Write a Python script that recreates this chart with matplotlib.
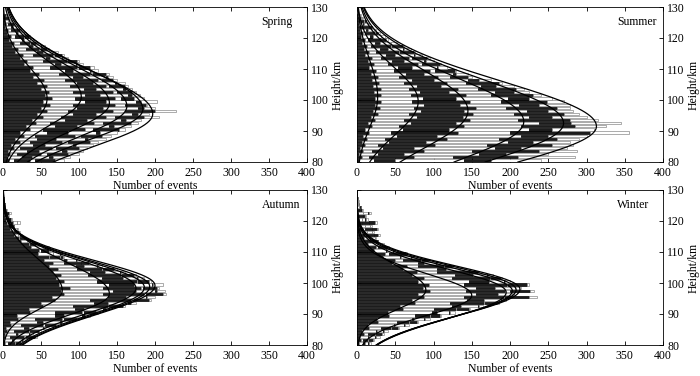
import numpy as np
import matplotlib
matplotlib.use("Agg")
import matplotlib.pyplot as plt

plt.rcParams['font.family'] = ['Liberation Serif', 'DejaVu Serif']

# ---------------- data ----------------
heights = list(range(80, 128))          # lower edge of each 1-km bin
seasons = ['Spring', 'Summer', 'Autumn', 'Winter']

# cumulative counts of the six stacked groups in each height bin (80..127 km)
spring_cum = [
    [8, 15, 35, 42, 68, 80], [5, 25, 38, 60, 66, 88], [9, 18, 50, 58, 85, 100],
    [7, 32, 48, 78, 84, 105], [14, 22, 65, 70, 100, 110], [10, 40, 55, 92, 96, 118],
    [22, 35, 78, 85, 115, 125], [16, 45, 70, 108, 112, 135], [28, 42, 95, 102, 130, 142],
    [22, 58, 85, 122, 128, 150], [35, 52, 108, 118, 152, 160], [30, 68, 98, 140, 146, 168],
    [44, 62, 120, 132, 168, 178], [38, 82, 110, 155, 162, 182], [52, 76, 135, 148, 185, 205],
    [45, 92, 122, 170, 178, 192], [58, 85, 145, 160, 200, 228], [50, 98, 132, 178, 185, 200],
    [62, 92, 148, 160, 188, 190], [52, 108, 135, 175, 182, 202], [64, 95, 148, 155, 172, 185],
    [55, 108, 128, 165, 170, 180], [60, 92, 145, 150, 170, 175], [50, 106, 122, 158, 162, 170],
    [58, 88, 135, 140, 160, 165], [45, 98, 118, 148, 150, 160], [54, 82, 125, 130, 145, 150],
    [40, 92, 105, 135, 138, 145], [48, 74, 115, 118, 136, 140], [36, 82, 92, 115, 116, 125],
    [40, 62, 98, 100, 115, 120], [28, 68, 76, 96, 97, 105], [32, 52, 84, 86, 98, 100],
    [22, 56, 62, 78, 79, 85], [26, 40, 66, 68, 78, 80], [16, 45, 52, 64, 65, 72],
    [20, 30, 48, 50, 58, 60], [12, 34, 40, 50, 51, 55], [14, 22, 36, 37, 44, 45],
    [8, 25, 28, 36, 36, 40], [10, 16, 28, 29, 34, 35], [5, 17, 20, 27, 27, 30],
    [6, 10, 18, 19, 23, 24], [3, 11, 13, 17, 17, 20], [4, 7, 12, 12, 15, 16],
    [2, 7, 7, 10, 11, 12], [2, 3, 6, 7, 8, 9], [1, 3, 4, 5, 5, 6],
]
summer_cum = [
    [2, 22, 50, 140, 175, 240], [6, 16, 75, 125, 210, 285], [3, 28, 62, 160, 195, 250],
    [8, 20, 88, 150, 238, 288], [4, 34, 75, 180, 215, 275], [10, 28, 102, 170, 255, 283],
    [6, 42, 90, 198, 230, 279], [13, 36, 118, 185, 262, 290], [8, 52, 105, 215, 250, 300],
    [16, 45, 132, 200, 305, 355], [11, 60, 120, 225, 255, 310], [19, 55, 140, 215, 285, 325],
    [14, 70, 130, 238, 280, 345], [23, 62, 148, 210, 278, 315], [18, 78, 138, 225, 255, 300],
    [27, 68, 152, 205, 270, 290], [21, 84, 140, 222, 250, 282], [30, 74, 155, 195, 262, 279],
    [23, 88, 135, 212, 238, 278], [31, 72, 148, 188, 248, 270], [24, 86, 130, 198, 225, 255],
    [32, 70, 142, 175, 230, 240], [22, 82, 120, 180, 205, 225], [31, 68, 132, 158, 208, 218],
    [21, 78, 110, 162, 182, 205], [29, 62, 118, 142, 185, 190], [20, 72, 100, 145, 160, 175],
    [27, 55, 106, 122, 145, 150], [18, 64, 88, 125, 130, 145], [25, 48, 95, 102, 128, 130],
    [16, 54, 72, 105, 106, 118], [22, 40, 80, 85, 108, 110], [14, 46, 62, 88, 90, 100],
    [19, 32, 68, 72, 92, 96], [11, 38, 50, 74, 76, 85], [16, 25, 55, 56, 74, 76],
    [9, 30, 40, 60, 61, 70], [13, 18, 45, 46, 60, 62], [7, 24, 30, 44, 45, 52],
    [10, 14, 30, 30, 38, 40], [5, 17, 21, 32, 32, 36], [8, 10, 24, 25, 28, 30],
    [4, 12, 14, 22, 22, 25], [6, 7, 16, 16, 19, 20], [3, 8, 9, 14, 14, 16],
    [4, 5, 9, 10, 12, 12], [2, 4, 5, 7, 7, 8], [1, 2, 3, 4, 4, 5],
]
autumn_cum = [
    [2, 6, 16, 17, 24, 25], [1, 12, 15, 25, 26, 30], [3, 9, 28, 30, 42, 45],
    [2, 17, 20, 34, 35, 40], [5, 14, 34, 36, 48, 50], [4, 28, 34, 52, 54, 60],
    [10, 24, 52, 55, 70, 72], [9, 45, 52, 75, 78, 85], [20, 42, 78, 80, 98, 100],
    [18, 68, 80, 104, 108, 115], [36, 68, 104, 106, 122, 125], [34, 95, 106, 132, 135, 140],
    [52, 92, 138, 140, 158, 160], [50, 120, 138, 165, 168, 175], [68, 115, 168, 172, 192, 195],
    [64, 138, 162, 188, 190, 200], [80, 132, 185, 188, 210, 215], [76, 145, 175, 200, 202, 213],
    [88, 132, 182, 184, 203, 205], [74, 140, 172, 196, 198, 210], [80, 124, 176, 178, 192, 195],
    [70, 130, 158, 176, 178, 185], [76, 112, 155, 156, 172, 175], [66, 115, 134, 154, 155, 160],
    [72, 98, 130, 132, 146, 150], [60, 96, 106, 124, 125, 130], [66, 80, 102, 103, 113, 115],
    [54, 80, 84, 96, 97, 100], [60, 62, 75, 76, 79, 80], [46, 66, 66, 75, 76, 78],
    [48, 50, 58, 58, 61, 62], [37, 52, 52, 58, 59, 60], [34, 35, 42, 42, 44, 45],
    [24, 31, 31, 34, 34, 35], [21, 22, 27, 27, 29, 30], [14, 20, 20, 23, 24, 25],
    [13, 14, 19, 19, 21, 22], [9, 14, 14, 18, 19, 20], [8, 8, 12, 12, 14, 15],
    [5, 11, 13, 18, 18, 22], [4, 5, 9, 9, 11, 12], [3, 4, 5, 6, 7, 8],
    [2, 4, 6, 7, 8, 10], [1, 2, 3, 4, 4, 5], [1, 1, 2, 2, 3, 3],
    [0, 1, 1, 1, 2, 2], [0, 0, 1, 1, 1, 1], [0, 0, 0, 0, 1, 1],
]
winter_cum = [
    [2, 8, 10, 15, 16, 18], [5, 8, 15, 16, 21, 22], [4, 14, 16, 24, 25, 30],
    [9, 14, 24, 25, 33, 35], [7, 25, 26, 34, 35, 40], [16, 32, 45, 46, 54, 55],
    [14, 48, 50, 62, 63, 68], [28, 52, 68, 69, 78, 80], [26, 72, 75, 88, 89, 95],
    [42, 76, 96, 97, 108, 110], [40, 98, 104, 120, 121, 128], [60, 100, 130, 131, 146, 148],
    [56, 124, 136, 158, 159, 165], [76, 122, 166, 167, 183, 185], [72, 144, 166, 188, 189, 195],
    [88, 140, 192, 194, 225, 235], [80, 156, 184, 202, 203, 205], [95, 142, 194, 200, 226, 232],
    [86, 156, 180, 206, 207, 215], [94, 140, 196, 198, 222, 225], [80, 146, 172, 192, 193, 200],
    [88, 124, 174, 175, 188, 190], [72, 128, 152, 170, 171, 178], [78, 104, 146, 147, 158, 160],
    [60, 104, 116, 134, 135, 140], [66, 80, 114, 115, 124, 125], [46, 80, 88, 103, 104, 108],
    [50, 60, 84, 85, 93, 95], [34, 56, 58, 71, 72, 75], [36, 42, 57, 57, 64, 65],
    [22, 38, 39, 47, 48, 50], [25, 27, 37, 37, 41, 42], [15, 26, 26, 33, 33, 35],
    [17, 17, 25, 25, 27, 28], [9, 17, 17, 23, 23, 25], [11, 12, 22, 22, 28, 30],
    [5, 13, 13, 20, 20, 22], [8, 10, 20, 20, 26, 28], [3, 10, 10, 17, 17, 20],
    [6, 7, 16, 16, 24, 26], [2, 6, 6, 11, 12, 15], [3, 3, 8, 8, 11, 12],
    [1, 8, 8, 15, 16, 18], [2, 2, 5, 5, 7, 8], [0, 3, 3, 4, 5, 5],
    [0, 1, 1, 2, 2, 3], [0, 1, 1, 1, 1, 2], [0, 0, 0, 1, 1, 1],
]

# fitted curve parameters (peak count, peak height km, width below, width above)
spring_fit_peak = [58, 103, 140, 163, 184, 197]
spring_fit_center = [100.5, 101, 99, 98, 97, 95.5]
spring_fit_sig_lo = [9, 9, 9.5, 10, 10, 10.5]
spring_fit_sig_hi = [10, 11, 12, 12.5, 13, 13.5]

summer_fit_peak = [27, 80, 145, 218, 270, 313]
summer_fit_center = [101, 99.5, 96.5, 93, 92.5, 91.5]
summer_fit_sig_lo = [10, 11, 12, 12.5, 12.8, 12.9]
summer_fit_sig_hi = [12, 11, 13, 14, 14.2, 14.5]

autumn_fit_peak = [78, 140, 175, 186, 193, 200]
autumn_fit_center = [97.5, 96.5, 98.3, 98.6, 98.9, 99.2]
autumn_fit_sig_lo = [6, 7, 8.5, 9, 9.3, 9.5]
autumn_fit_sig_hi = [10, 10, 8.5, 8.3, 8.1, 8]

winter_fit_peak = [90, 150, 195, 203, 208, 213]
winter_fit_center = [97.7, 96, 97, 97.5, 97.8, 98]
winter_fit_sig_lo = [6, 6.5, 8.5, 8.6, 8.7, 8.7]
winter_fit_sig_hi = [7.5, 7, 7.5, 7.5, 7.5, 7.5]

x_ticks = [0, 50, 100, 150, 200, 250, 300, 350, 400]
y_ticks = [80, 90, 100, 110, 120, 130]

panels = [
    (spring_cum, spring_fit_peak, spring_fit_center, spring_fit_sig_lo, spring_fit_sig_hi),
    (summer_cum, summer_fit_peak, summer_fit_center, summer_fit_sig_lo, summer_fit_sig_hi),
    (autumn_cum, autumn_fit_peak, autumn_fit_center, autumn_fit_sig_lo, autumn_fit_sig_hi),
    (winter_cum, winter_fit_peak, winter_fit_center, winter_fit_sig_lo, winter_fit_sig_hi),
]

# ---------------- figure ----------------
W, H = 700, 376
fig = plt.figure(figsize=(W / 100, H / 100), dpi=100)
boxes = [(3, 7, 304, 155), (357, 7, 306, 155), (3, 190, 304, 155), (357, 190, 306, 155)]
FS = 8.5

dark_face, dark_edge = '#1c1c1c', '#000000'
light_face, light_edge = '#ffffff', '#8a8a8a'

for (name, box, data) in zip(seasons, boxes, panels):
    x0, y0, w, h = box
    ax = fig.add_axes([x0 / W, 1 - (y0 + h) / H, w / W, h / H])
    cum, peak, cen, slo, shi = data
    cum = np.array(cum, dtype=float)
    hc = np.array(heights) + 0.5
    prev = np.zeros(len(heights))
    for k in range(cum.shape[1]):
        width = cum[:, k] - prev
        if k % 2 == 0:
            fc, ec = dark_face, dark_edge
        else:
            fc, ec = light_face, light_edge
        ax.barh(hc, width, left=prev, height=0.72, color=fc, edgecolor=ec,
                linewidth=0.5, zorder=2)
        prev = cum[:, k]
    yy = np.linspace(80, 130, 400)
    for A, c, s1, s2 in zip(peak, cen, slo, shi):
        s = np.where(yy < c, s1, s2)
        ax.plot(A * np.exp(-(yy - c) ** 2 / (2 * s ** 2)), yy, color='black',
                lw=0.9, zorder=3)
    ax.set_xlim(0, 400)
    ax.set_ylim(80, 130)
    ax.set_xticks(x_ticks)
    ax.set_yticks(y_ticks)
    ax.tick_params(direction='in', length=3, width=0.6, top=True, right=True,
                   left=True, labelleft=False, labelright=True, labelsize=FS)
    ax.tick_params(axis='x', pad=3.5)
    ax.tick_params(axis='y', pad=3)
    ax.yaxis.set_label_position('right')
    ax.set_ylabel('Height/km', fontsize=FS, labelpad=2)
    ax.set_xlabel('Number of events', fontsize=FS, labelpad=0.5)
    for sp in ax.spines.values():
        sp.set_linewidth(0.6)
    ax.text(0.85, 0.905, name, transform=ax.transAxes, fontsize=FS,
            va='center', ha='left', zorder=4)

fig.savefig('out.png', dpi=100)
